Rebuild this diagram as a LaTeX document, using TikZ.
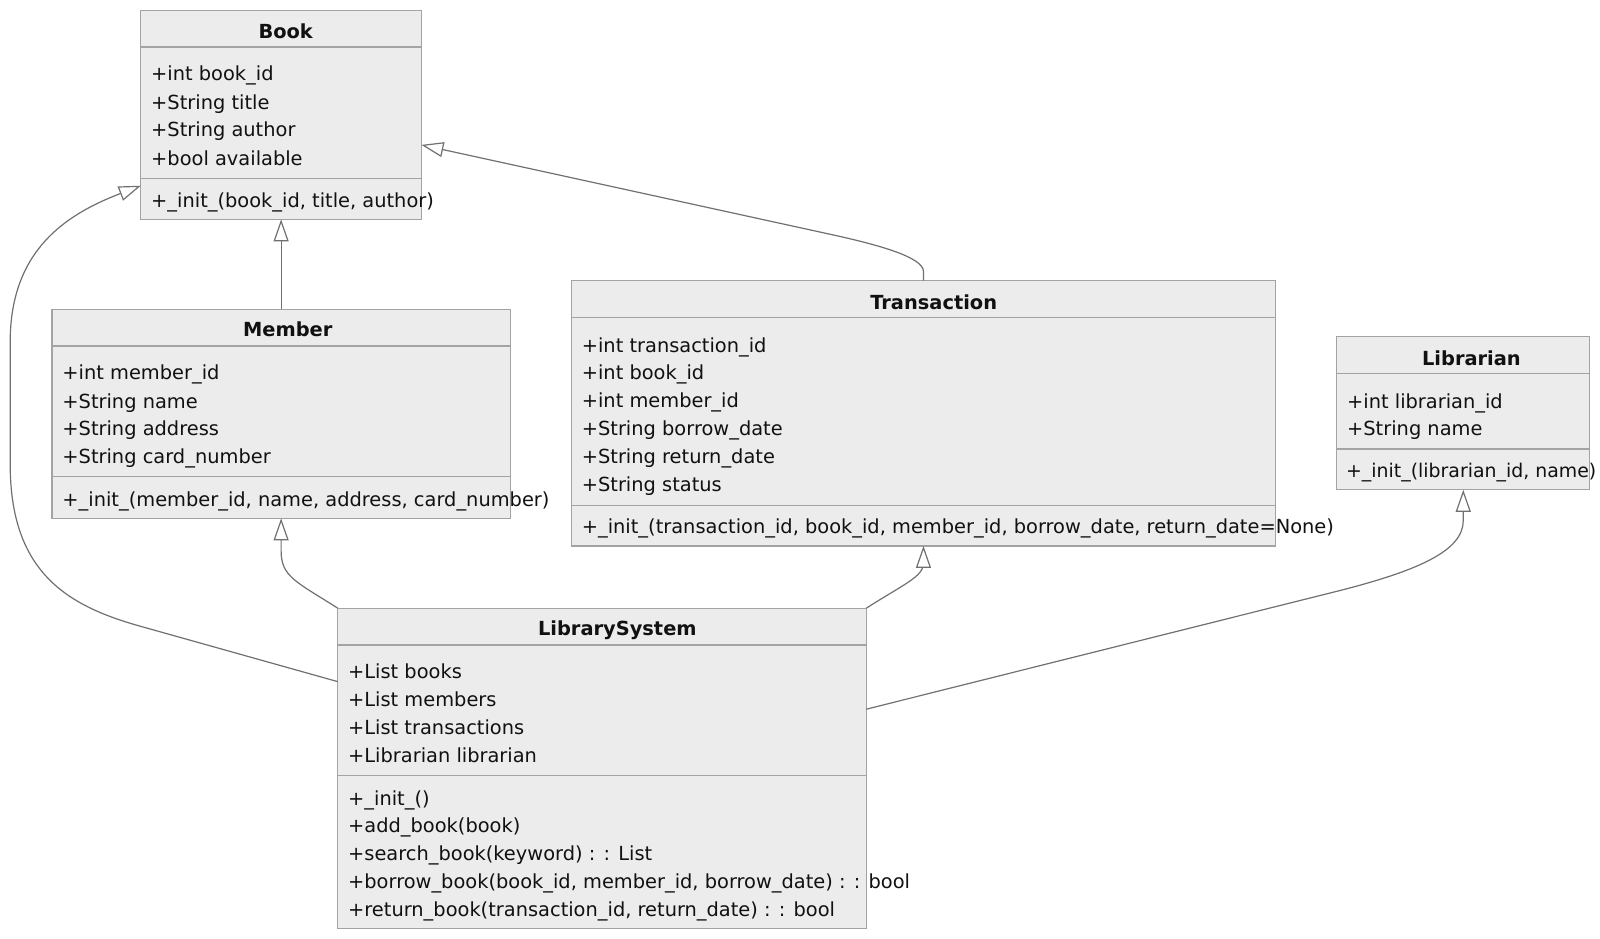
\documentclass[tikz,border=0pt]{standalone}
\usepackage{fontspec}
\setmainfont{DejaVu Sans}
\usetikzlibrary{arrows.meta,fit,calc}
\definecolor{boxfill}{HTML}{ECECEC}
\definecolor{boxdraw}{HTML}{A3A3A3}
\definecolor{edgecol}{HTML}{707070}
\definecolor{txt}{HTML}{111111}
\newcommand{\fsz}{\fontsize{19.4pt}{23pt}\selectfont}
\newcommand{\fszs}{\fontsize{18.9pt}{23pt}\selectfont}
\begin{document}
\begin{tikzpicture}[x=1.0204pt,y=-1.0204pt,
  umlbox/.style={draw=boxdraw, fill=boxfill, line width=1.2pt, inner sep=0pt, outer sep=0pt},
  sepline/.style={draw=boxdraw, line width=1.2pt},
  row/.style={anchor=base west, inner sep=0pt, font=\fsz, text=txt},
  ttl/.style={anchor=base, inner sep=0pt, font=\fsz\bfseries, text=txt},
  inh/.style={draw=edgecol, line width=1.2pt, -{Triangle[open, length=22pt, width=15pt, fill=white]}}]
\useasboundingbox (0,0) rectangle (1568,920.2);

% ---- Book
\node[umlbox, fit={(138,10) (413,215)}] (book) {};
\draw[sepline] (138,46) -- (413,46);
\draw[sepline] (138,175) -- (413,175);
\node[ttl] (bookT) at (280,37.5) {Book};
\node[row] (bookA1) at (148,79) {+int book\_id};
\node[row] (bookA2) at (148,107) {+String title};
\node[row] (bookA3) at (148,134) {+String author};
\node[row] (bookA4) at (148,162) {+bool available};
\node[row] (bookM1) at (148,203) {+\_init\_(book\_id, title, author)};

% ---- Member
\node[umlbox, fit={(51,303) (500,508)}] (member) {};
\draw[sepline] (51,339) -- (500,339);
\draw[sepline] (51,467) -- (500,467);
\node[ttl] (memT) at (282,330) {Member};
\node[row] (memA1) at (61,372) {+int member\_id};
\node[row] (memA2) at (61,400) {+String name};
\node[row] (memA3) at (61,427) {+String address};
\node[row] (memA4) at (61,454) {+String card\_number};
\node[row] (memM1) at (61,496) {+\_init\_(member\_id, name, address, card\_number)};

% ---- Transaction
\node[umlbox, fit={(560,275) (1250,535)}] (trans) {};
\draw[sepline] (560,311) -- (1250,311);
\draw[sepline] (560,495) -- (1250,495);
\node[ttl] (trT) at (915,303) {Transaction};
\node[row] (trA1) at (570,345) {+int transaction\_id};
\node[row] (trA2) at (570,372) {+int book\_id};
\node[row] (trA3) at (570,399) {+int member\_id};
\node[row] (trA4) at (570,427) {+String borrow\_date};
\node[row] (trA5) at (570,454) {+String return\_date};
\node[row] (trA6) at (570,482) {+String status};
\node[row] (trM1) at (570,523) {+\_init\_(transaction\_id, book\_id, member\_id, borrow\_date, return\_date=None)};

% ---- Librarian
\node[umlbox, fit={(1310,330) (1558,480)}] (libr) {};
\draw[sepline] (1310,366) -- (1558,366);
\draw[sepline] (1310,440) -- (1558,440);
\node[ttl] (lbT) at (1442,358) {Librarian};
\node[row] (lbA1) at (1320,400) {+int librarian\_id};
\node[row] (lbA2) at (1320,427) {+String name};
\node[row, font=\fszs] (lbM1) at (1319,468) {+\_init\_(librarian\_id, name)};

% ---- LibrarySystem
\node[umlbox, fit={(331,596) (849,910)}] (lsys) {};
\draw[sepline] (331,632) -- (849,632);
\draw[sepline] (331,760) -- (849,760);
\node[ttl] (lsT) at (605,623) {LibrarySystem};
\node[row] (lsA1) at (341,665) {+List books};
\node[row] (lsA2) at (341,692) {+List members};
\node[row] (lsA3) at (341,720) {+List transactions};
\node[row] (lsA4) at (341,747) {+Librarian librarian};
\node[row] (lsM1) at (341,789) {+\_init\_()};
\node[row] (lsM2) at (341,816) {+add\_book(book)};
\node[row] (lsM3) at (341,843) {+search\_book(keyword) : : List};
\node[row] (lsM4) at (341,871) {+borrow\_book(book\_id, member\_id, borrow\_date) : : bool};
\node[row] (lsM5) at (341,898) {+return\_book(transaction\_id, return\_date) : : bool};

% ---- connectors
\draw[inh] (member.north) -- (book.south);
\draw[inh] (trans.north) -- ++(0,-9) .. controls +(0,-14) and (860,240) .. (820,231) -- ($(book.north east)+(0,132)$);
\draw[inh] ($(lsys.north west)+(0,72)$) -- (135,613) .. controls (65,593) and (10,560) .. (10,455) -- (10,335) .. controls (10,245) and (65,210) .. ($(book.north west)+(0,172)$);
\draw[inh] (lsys.north west) .. controls (290,570) and (275.5,565) .. (275.5,540) -- (member.south);
\draw[inh] (lsys.north east) .. controls (885,573) and (905,565) .. (905,552) -- (trans.south);
\draw[inh] ($(lsys.north east)+(0,99)$) -- (1300,582) .. controls (1390,560) and (1434,540) .. (1434,510) -- (libr.south);
\end{tikzpicture}
\end{document}
